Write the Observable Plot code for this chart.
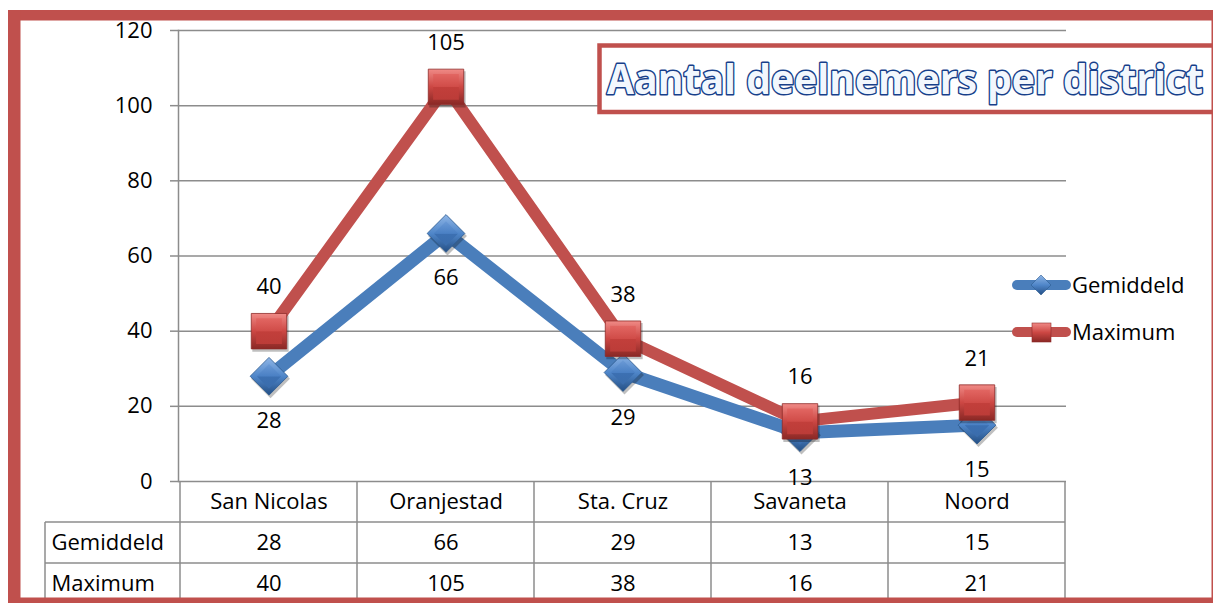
<!DOCTYPE html>
<html><head><meta charset="utf-8">
<script src="https://cdn.jsdelivr.net/npm/d3@7"></script>
<script src="https://cdn.jsdelivr.net/npm/@observablehq/plot@0.6"></script>
<style>body{margin:0;background:#fff;overflow:hidden}</style>
</head><body><div id="chart"></div>
<script>
const districts = ["San Nicolas", "Oranjestad", "Sta. Cruz", "Savaneta", "Noord"];
const gemiddeld = [28, 66, 29, 13, 15];
const maximum = [40, 105, 38, 16, 21];
const seriesNames = ["Gemiddeld", "Maximum"];
const yTicks = [0, 20, 40, 60, 80, 100, 120];
const titleText = "Aantal deelnemers per district";

const gem = districts.map((d, i) => ({district: d, series: "Gemiddeld", value: gemiddeld[i]}));
const max = districts.map((d, i) => ({district: d, series: "Maximum", value: maximum[i]}));

const font = "'Open Sans', sans-serif";
const FS = 22;
const BLUE = "#4a7ebb", RED = "#c0504d", GRID = "#8c8c8c";

const chart = Plot.plot({
  width: 1213, height: 603,
  marginLeft: 178, marginRight: 147, marginTop: 30, marginBottom: 122,
  style: {fontFamily: font, fontSize: FS + "px", color: "#000", background: "#fff", overflow: "visible"},
  x: {type: "band", domain: districts, padding: 0, axis: null},
  y: {domain: [0, 120], axis: null},
  marks: [
    Plot.gridY(yTicks, {stroke: GRID, strokeOpacity: 1, strokeWidth: 1.5}),
    Plot.axisY(yTicks, {tickSize: 8, tickPadding: 18, stroke: GRID, strokeWidth: 1.5, fontSize: FS, label: null, fill: "#000"}),
    Plot.frame({anchor: "left", stroke: GRID, strokeWidth: 1.5}),
    // Gemiddeld
    Plot.line(gem, {x: "district", y: "value", stroke: BLUE, strokeWidth: 13, strokeLinejoin: "round", strokeLinecap: "round"}),
    Plot.dot(gem, {x: "district", y: "value", symbol: "diamond2", r: 17.5, fill: "rgba(0,0,0,0.25)", dx: 1.5, dy: 2.5}),
    Plot.dot(gem, {x: "district", y: "value", symbol: "diamond2", r: 17, fill: "url(#gBlueOuter)", stroke: "#2c5a8f", strokeWidth: 0.8}),
    Plot.dot(gem, {x: "district", y: "value", symbol: "diamond2", r: 11, fill: "url(#gBlueInner)"}),
    // Maximum
    Plot.line(max, {x: "district", y: "value", stroke: RED, strokeWidth: 12, strokeLinejoin: "round", strokeLinecap: "round"}),
    Plot.dot(max, {x: "district", y: "value", symbol: "square", r: 20.5, fill: "rgba(0,0,0,0.25)", dx: 1.5, dy: 2.5}),
    Plot.dot(max, {x: "district", y: "value", symbol: "square", r: 20, fill: "url(#gRedOuter)", stroke: "#8e2b28", strokeWidth: 0.8}),
    Plot.dot(max, {x: "district", y: "value", symbol: "square", r: 14.5, fill: "url(#gRedInner)"}),
    // data labels
    Plot.text(gem, {x: "district", y: "value", text: d => String(d.value), dy: 45, fontSize: FS, fill: "#000"}),
    Plot.text(max, {x: "district", y: "value", text: d => String(d.value), dy: -44, fontSize: FS, fill: "#000"}),
    // data table text
    Plot.text(districts, {x: d => d, y: () => 0, dy: 20, fontSize: FS, fill: "#000"}),
    Plot.text(gem, {x: "district", y: () => 0, text: d => String(d.value), dy: 61, fontSize: FS, fill: "#000"}),
    Plot.text(max, {x: "district", y: () => 0, text: d => String(d.value), dy: 102, fontSize: FS, fill: "#000"}),
    Plot.text([seriesNames[0]], {frameAnchor: "bottom-left", lineAnchor: "middle", text: d => d, dx: -127, dy: 61, textAnchor: "start", fontSize: FS, fill: "#000"}),
    Plot.text([seriesNames[1]], {frameAnchor: "bottom-left", lineAnchor: "middle", text: d => d, dx: -127, dy: 102, textAnchor: "start", fontSize: FS, fill: "#000"})
  ]
});

document.getElementById("chart").appendChild(chart);

const svg = d3.select(chart);
const defs = svg.insert("defs", ":first-child");
function grad(id, stops, x2 = 0, y2 = 1) {
  const g = defs.append("linearGradient").attr("id", id).attr("x1", 0).attr("y1", 0).attr("x2", x2).attr("y2", y2);
  stops.forEach(([o, c]) => g.append("stop").attr("offset", o).attr("stop-color", c));
}
grad("gBlueOuter", [[0, "#8fb5e6"], [0.5, "#4f86c9"], [1, "#244f85"]]);
grad("gBlueInner", [[0, "#6b9ad6"], [0.5, "#4a80c4"], [0.52, "#3c70b2"], [1, "#3a6cab"]]);
grad("gRedOuter", [[0, "#f08a86"], [0.5, "#cc4743"], [1, "#8a2825"]]);
grad("gRedInner", [[0, "#e26662"], [0.5, "#d04c48"], [0.52, "#c23f3b"], [1, "#bc3c38"]]);

const xs = chart.scale("x"), ys = chart.scale("y");
const y0 = ys.apply(0);
const bw = xs.bandwidth;
const right = xs.apply(districts[districts.length - 1]) + bw;

// table grid
const tg = svg.append("g").attr("stroke", GRID).attr("stroke-width", 1.5).attr("fill", "none");
const rowH = 41;
tg.append("line").attr("x1", 45).attr("x2", right).attr("y1", y0 + rowH).attr("y2", y0 + rowH);
tg.append("line").attr("x1", 45).attr("x2", right).attr("y1", y0 + 2 * rowH).attr("y2", y0 + 2 * rowH);
tg.append("line").attr("x1", 45).attr("x2", 45).attr("y1", y0 + rowH).attr("y2", 603);
districts.forEach(d => {
  const x = xs.apply(d);
  tg.append("line").attr("x1", x).attr("x2", x).attr("y1", y0).attr("y2", 603);
});
tg.append("line").attr("x1", right).attr("x2", right).attr("y1", y0).attr("y2", 603);

// legend
const lg = svg.append("g");
const legendItems = [
  {name: seriesNames[0], color: BLUE, y: 285, sym: "diamond"},
  {name: seriesNames[1], color: RED, y: 332, sym: "square"}
];
legendItems.forEach(it => {
  lg.append("line").attr("x1", 1017).attr("x2", 1066).attr("y1", it.y).attr("y2", it.y)
    .attr("stroke", it.color).attr("stroke-width", 10).attr("stroke-linecap", "round");
  if (it.sym === "diamond") {
    lg.append("path").attr("d", "M1041,275 L1051,285 L1041,295 L1031,285 Z").attr("fill", "url(#gBlueOuter)").attr("stroke", "#2c5a8f").attr("stroke-width", 0.6);
  } else {
    lg.append("rect").attr("x", 1032).attr("y", 323).attr("width", 19).attr("height", 19).attr("fill", "url(#gRedOuter)").attr("stroke", "#8e2b28").attr("stroke-width", 0.6);
  }
  lg.append("text").attr("x", 1072).attr("y", it.y).attr("dy", "0.35em").attr("text-anchor", "start")
    .attr("font-size", FS).attr("font-family", font).attr("fill", "#000").text(it.name);
});

// title box
svg.append("rect").attr("x", 599.5).attr("y", 45.5).attr("width", 640).attr("height", 66.5)
  .attr("fill", "#fff").attr("stroke", RED).attr("stroke-width", 4.5);
svg.append("text").attr("x", 607).attr("y", 94).attr("text-anchor", "start")
  .attr("font-family", "'Open Sans', sans-serif").attr("font-weight", "bold")
  .attr("font-size", 42).attr("textLength", 596).attr("lengthAdjust", "spacingAndGlyphs")
  .attr("fill", "#f2f7fd").attr("stroke", "#173f8a").attr("stroke-width", 3).attr("paint-order", "stroke")
  .attr("stroke-linejoin", "round").text(titleText);

// outer border
const bg = svg.append("g").attr("fill", RED);
bg.append("rect").attr("x", 8).attr("y", 10).attr("width", 1205).attr("height", 10.5);
bg.append("rect").attr("x", 8).attr("y", 10).attr("width", 12.5).attr("height", 593);
bg.append("rect").attr("x", 1211.5).attr("y", 10).attr("width", 2).attr("height", 593);
bg.append("rect").attr("x", 8).attr("y", 597.5).attr("width", 1205).attr("height", 6);
</script>
</body></html>
